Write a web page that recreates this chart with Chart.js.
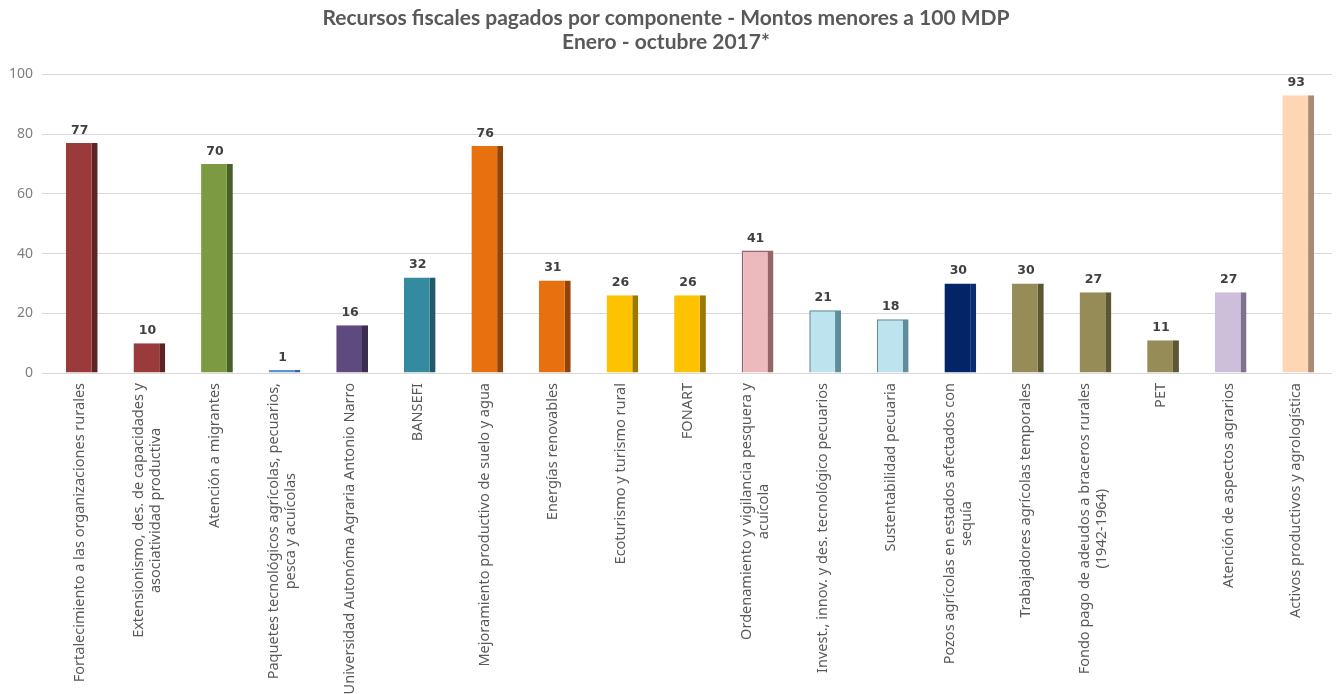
<!DOCTYPE html>
<html lang="es">
<head>
  <meta charset="UTF-8">
  <title>Recursos fiscales pagados por componente</title>
  <script src="https://cdn.jsdelivr.net/npm/chart.js"></script>
  <style>
    html, body {
      margin: 0;
      padding: 0;
      background: #ffffff;
    }
    #wrap {
      width: 1340px;
      height: 694px;
      position: relative;
    }
  </style>
</head>
<body>
<div id="wrap"><canvas id="chart"></canvas></div>

<script>
// componentes (líneas de cada etiqueta)
const categories = [
  ['Fortalecimiento a las organizaciones rurales'],
  ['Extensionismo, des. de capacidades y', 'asociatividad productiva'],
  ['Atención a migrantes'],
  ['Paquetes tecnológicos agrícolas, pecuarios,', 'pesca y acuícolas'],
  ['Universidad Autonóma Agraria Antonio Narro'],
  ['BANSEFI'],
  ['Mejoramiento productivo de suelo y agua'],
  ['Energías renovables'],
  ['Ecoturismo y turismo rural'],
  ['FONART'],
  ['Ordenamiento y vigilancia pesquera y', 'acuícola'],
  ['Invest., innov. y des. tecnológico pecuarios'],
  ['Sustentabilidad pecuaria'],
  ['Pozos agrícolas en estados afectados con', 'sequía'],
  ['Trabajadores agrícolas temporales'],
  ['Fondo pago de adeudos a braceros rurales', '(1942-1964)'],
  ['PET'],
  ['Atención de aspectos agrarios'],
  ['Activos productivos y agrologística']
];

const montos = [77, 10, 70, 1, 16, 32, 76, 31, 26, 26, 41, 21, 18, 30, 30, 27, 11, 27, 93];

const yTicks = [0, 20, 40, 60, 80, 100];

const frontColors = [
  '#9b3a3a', '#9b3a3a', '#7b9a41', '#5d91d8', '#5f4a80', '#348a9e', '#e8710f',
  '#e8710f', '#fdc200', '#fdc200', '#ecbabc', '#bde4ee', '#bde4ee', '#032567',
  '#958c57', '#958c57', '#958c57', '#cdbfdc', '#fdd6b3'
];
const sideColors = [
  '#5e2323', '#5e2323', '#4a5e27', '#3a6398', '#3b2d50', '#1f5a68', '#8f450a',
  '#8f450a', '#9c7800', '#9c7800', '#946667', '#5f8e9a', '#5f8e9a', '#0b2c70',
  '#5c5634', '#5c5634', '#5c5634', '#7c728e', '#a98b75'
];
// barras con contorno fino
const outlined = [false, false, false, false, false, false, false, false, false, false,
  true, true, true, false, false, false, false, false, false];

const valueLabels = {
  id: 'valueLabels',
  afterDatasetsDraw(chart) {
    const ctx = chart.ctx;
    const meta = chart.getDatasetMeta(0);
    ctx.save();
    ctx.font = 'bold 12.5px "DejaVu Sans"';
    ctx.fillStyle = '#404040';
    ctx.textAlign = 'center';
    ctx.textBaseline = 'bottom';
    meta.data.forEach((bar, i) => {
      ctx.fillText(String(montos[i]), bar.x - 2, bar.y - 6);
    });
    ctx.restore();
  }
};

const rotatedLabels = {
  id: 'rotatedLabels',
  afterDraw(chart) {
    const ctx = chart.ctx;
    const xs = chart.scales.x;
    const top = chart.chartArea.bottom + 10;
    ctx.save();
    ctx.font = '14.5px "Noto Sans"';
    ctx.fillStyle = '#595959';
    ctx.textAlign = 'center';
    ctx.textBaseline = 'middle';
    categories.forEach((lines, i) => {
      const px = xs.getPixelForTick(i) - 2;
      const w = Math.max(...lines.map(l => ctx.measureText(l).width));
      ctx.save();
      ctx.translate(px, top + w / 2);
      ctx.rotate(-Math.PI / 2);
      lines.forEach((l, j) => ctx.fillText(l, 0, (j - (lines.length - 1) / 2) * 17));
      ctx.restore();
    });
    ctx.restore();
  }
};

new Chart(document.getElementById('chart'), {
  type: 'bar',
  data: {
    labels: categories.map(l => l.join(' ')),
    datasets: [{
      data: montos,
      backgroundColor: frontColors,
      borderColor: sideColors,
      borderWidth: ctx => {
        const o = outlined[ctx.dataIndex];
        return { top: o ? 1.5 : 0, left: o ? 1.5 : 0, right: 6, bottom: 0 };
      },
      borderSkipped: false,
      barPercentage: 0.47,
      categoryPercentage: 1
    }]
  },
  options: {
    responsive: true,
    maintainAspectRatio: false,
    animation: false,
    layout: { padding: { left: 0, right: 8, top: 0, bottom: 321 } },
    plugins: {
      legend: { display: false },
      tooltip: { enabled: false },
      title: {
        display: true,
        text: ['Recursos fiscales pagados por componente - Montos menores a 100 MDP', 'Enero - octubre 2017*'],
        color: '#595959',
        font: { family: 'Lato', size: 21, weight: 'bold', lineHeight: 1.15 },
        padding: { top: 6, bottom: 20 }
      }
    },
    scales: {
      x: {
        grid: { display: false, drawTicks: false },
        border: { display: false },
        ticks: { display: false }
      },
      y: {
        min: 0,
        max: 100,
        afterBuildTicks: axis => { axis.ticks = yTicks.map(v => ({ value: v })); },
        grid: { color: '#d9d9d9', lineWidth: 1, tickLength: 6 },
        border: { display: false },
        ticks: {
          color: '#7f7f7f',
          padding: 9,
          font: { family: 'Noto Sans', size: 14 }
        }
      }
    }
  },
  plugins: [valueLabels, rotatedLabels]
});
</script>
</body>
</html>
